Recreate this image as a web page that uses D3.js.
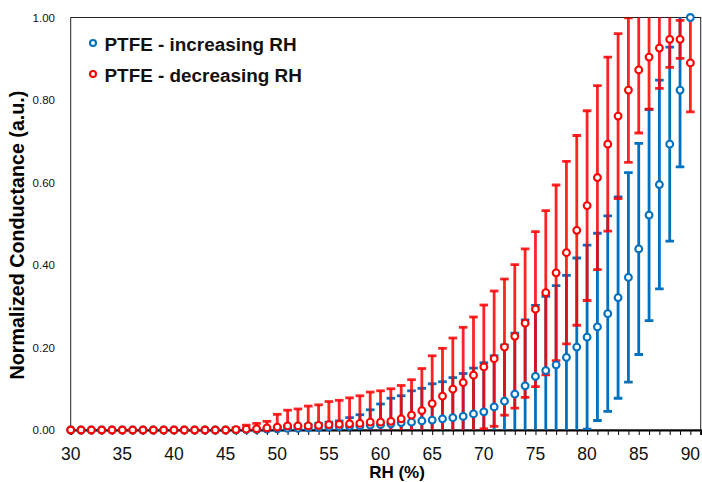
<!DOCTYPE html>
<html>
<head>
<meta charset="utf-8">
<script src="https://cdn.jsdelivr.net/npm/d3@7"></script>
<style>
  html, body { margin: 0; padding: 0; background: #fff; }
  svg { display: block; font-family: "Liberation Sans", Arial, sans-serif; }
</style>
</head>
<body>
<svg id="chart" width="702" height="482"></svg>
<script>
// Relative humidity steps (%)
const rh = [30, 31, 32, 33, 34, 35, 36, 37, 38, 39, 40, 41, 42, 43, 44, 45, 46, 47, 48, 49,
            50, 51, 52, 53, 54, 55, 56, 57, 58, 59, 60, 61, 62, 63, 64, 65, 66, 67, 68, 69,
            70, 71, 72, 73, 74, 75, 76, 77, 78, 79, 80, 81, 82, 83, 84, 85, 86, 87, 88, 89, 90];

// PTFE, increasing RH: normalized conductance and its error
const increasing = [0, 0, 0, 0, 0, 0, 0, 0, 0, 0, 0, 0, 0, 0, 0, 0, 0.000, 0.001, 0.001, 0.002,
                    0.003, 0.004, 0.004, 0.005, 0.006, 0.007, 0.008, 0.009, 0.010, 0.012,
                    0.013, 0.015, 0.018, 0.019, 0.022, 0.024, 0.027, 0.030, 0.033, 0.039,
                    0.044, 0.056, 0.070, 0.087, 0.107, 0.130, 0.144, 0.158, 0.176, 0.201,
                    0.225, 0.250, 0.282, 0.321, 0.370, 0.439, 0.521, 0.595, 0.693, 0.824, 1.000];
const increasingErr = [0, 0, 0, 0, 0, 0, 0, 0, 0, 0, 0, 0, 0, 0, 0, 0, 0, 0, 0, 0,
                       0.004, 0.006, 0.007, 0.008, 0.010, 0.012, 0.014, 0.021, 0.027, 0.037,
                       0.050, 0.062, 0.065, 0.076, 0.079, 0.088, 0.090, 0.097, 0.104, 0.111,
                       0.119, 0.124, 0.136, 0.148, 0.160, 0.172, 0.180, 0.192, 0.199, 0.216,
                       0.223, 0.227, 0.237, 0.244, 0.254, 0.256, 0.256, 0.253, 0.235, 0.186, 0];

// PTFE, decreasing RH: normalized conductance and its error
const decreasing = [0, 0, 0, 0, 0, 0, 0, 0, 0, 0, 0, 0, 0, 0, 0, 0, 0.001, 0.002, 0.003, 0.005,
                    0.007, 0.010, 0.010, 0.010, 0.011, 0.013, 0.014, 0.015, 0.016, 0.019,
                    0.019, 0.021, 0.027, 0.036, 0.047, 0.064, 0.082, 0.099, 0.115, 0.133,
                    0.153, 0.173, 0.201, 0.227, 0.259, 0.293, 0.333, 0.381, 0.430, 0.484,
                    0.544, 0.612, 0.693, 0.761, 0.824, 0.873, 0.904, 0.926, 0.947, 0.947, 0.890];
const decreasingErr = [0, 0, 0, 0, 0, 0, 0, 0, 0, 0, 0, 0, 0, 0, 0, 0, 0.004, 0.010, 0.013, 0.016,
                       0.031, 0.038, 0.041, 0.048, 0.050, 0.056, 0.058, 0.063, 0.067, 0.073,
                       0.076, 0.079, 0.081, 0.086, 0.102, 0.116, 0.116, 0.124, 0.134, 0.141,
                       0.150, 0.164, 0.165, 0.174, 0.180, 0.188, 0.199, 0.213, 0.221, 0.230,
                       0.230, 0.223, 0.211, 0.200, 0.175, 0.153, 0.126, 0.098, 0.068, 0.046, 0.119];

const xTickLabels = [30, 35, 40, 45, 50, 55, 60, 65, 70, 75, 80, 85, 90];
const yTickLabels = [0, 0.2, 0.4, 0.6, 0.8, 1.0];

const seriesNames = ["PTFE - increasing RH", "PTFE - decreasing RH"];
const seriesColors = ["#0070C0", "#FF0000"];

const svg = d3.select("#chart");
const plot = { left: 70.7, right: 700.7, top: 17.5, bottom: 430 };

const x = d3.scaleLinear().domain([30, 91]).range([plot.left, plot.right]);
const y = d3.scaleLinear().domain([0, 1]).range([plot.bottom, plot.top]);

const series = [
  { name: seriesNames[0], color: seriesColors[0], opacity: 1,
    pts: rh.map((v, i) => ({ rh: v, val: increasing[i], err: increasingErr[i] })) },
  { name: seriesNames[1], color: seriesColors[1], opacity: 0.86,
    pts: rh.map((v, i) => ({ rh: v, val: decreasing[i], err: decreasingErr[i] })) }
];

svg.append("defs").append("clipPath").attr("id", "plotClip")
  .append("rect")
  .attr("x", plot.left).attr("y", plot.top)
  .attr("width", plot.right - plot.left).attr("height", plot.bottom - plot.top);

// frame around the plot area
svg.append("rect")
  .attr("x", plot.left).attr("y", plot.top)
  .attr("width", plot.right - plot.left).attr("height", plot.bottom - plot.top)
  .attr("fill", "none").attr("stroke", "#222").attr("stroke-width", 1);

// x axis with a tick at every integer RH
const xAxis = d3.axisBottom(x).tickValues(d3.range(30, 92)).tickSize(5).tickFormat("");
const gx = svg.append("g").attr("transform", `translate(0,${plot.bottom})`).call(xAxis);
gx.select(".domain").attr("stroke", "#000").attr("stroke-width", 2);
gx.selectAll(".tick line").attr("stroke", "#000").attr("stroke-width", 1);

svg.append("g").selectAll("text").data(xTickLabels).join("text")
  .attr("x", d => x(d)).attr("y", 460)
  .attr("text-anchor", "middle")
  .attr("font-size", 17.5).attr("fill", "#111")
  .text(d => d);

// y tick labels
svg.append("g").selectAll("text").data(yTickLabels).join("text")
  .attr("x", 55).attr("y", d => y(d))
  .attr("dy", "0.35em")
  .attr("text-anchor", "end")
  .attr("font-size", 11.5).attr("fill", "#111")
  .text(d => d3.format(".2f")(d));

// axis titles
svg.append("text")
  .attr("x", 397).attr("y", 478)
  .attr("text-anchor", "middle")
  .attr("font-size", 17).attr("font-weight", "bold")
  .text("RH (%)");

svg.append("text")
  .attr("transform", "translate(24,235) rotate(-90)")
  .attr("text-anchor", "middle")
  .attr("font-size", 19.7).attr("font-weight", "bold")
  .text("Normalized Conductance (a.u.)");

// error bars (clipped to the plot area)
const bars = svg.append("g").attr("clip-path", "url(#plotClip)");
const capHalf = 4.3;
series.forEach(s => {
  const g = bars.append("g")
    .attr("stroke", s.color).attr("stroke-width", 2.8)
    .attr("stroke-opacity", s.opacity);
  const withErr = s.pts.filter(p => p.err > 0);
  g.selectAll("line.v").data(withErr).join("line").attr("class", "v")
    .attr("x1", p => x(p.rh)).attr("x2", p => x(p.rh))
    .attr("y1", p => y(p.val - p.err)).attr("y2", p => y(p.val + p.err));
  g.selectAll("line.top").data(withErr).join("line").attr("class", "top")
    .attr("x1", p => x(p.rh) - capHalf).attr("x2", p => x(p.rh) + capHalf)
    .attr("y1", p => y(p.val + p.err)).attr("y2", p => y(p.val + p.err));
  g.selectAll("line.bot").data(withErr).join("line").attr("class", "bot")
    .attr("x1", p => x(p.rh) - capHalf).attr("x2", p => x(p.rh) + capHalf)
    .attr("y1", p => y(p.val - p.err)).attr("y2", p => y(p.val - p.err));
});

// markers
series.forEach(s => {
  svg.append("g").selectAll("circle").data(s.pts).join("circle")
    .attr("cx", p => x(p.rh)).attr("cy", p => y(p.val))
    .attr("r", 3.4)
    .attr("fill", "#fff").attr("stroke", s.color).attr("stroke-width", 2.1);
});

// legend
const legend = svg.append("g");
series.forEach((s, i) => {
  const ly = 44 + i * 31;
  legend.append("circle")
    .attr("cx", 93).attr("cy", ly - 1).attr("r", 3)
    .attr("fill", "#fff").attr("stroke", s.color).attr("stroke-width", 2.1);
  legend.append("text")
    .attr("x", 104.5).attr("y", ly).attr("dy", "0.35em")
    .attr("font-size", 18.9).attr("font-weight", "bold").attr("fill", "#111")
    .text(s.name);
});
</script>
</body>
</html>
